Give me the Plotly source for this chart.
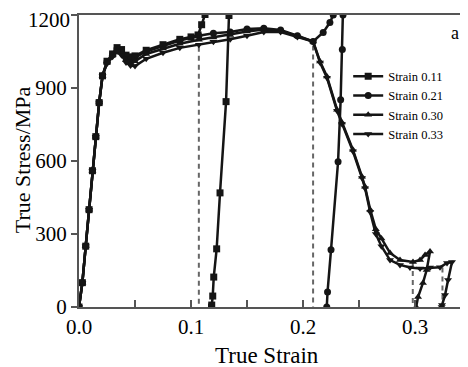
import plotly.graph_objects as go

# ---- data ----
series_names = ["Strain 0.11", "Strain 0.21", "Strain 0.30", "Strain 0.33"]
marker_symbols = ["square", "circle", "triangle-up", "triangle-down"]

strain_011 = [0, 0.003, 0.006, 0.009, 0.012, 0.015, 0.018, 0.021, 0.025, 0.030, 0.034, 0.038,
              0.042, 0.046, 0.050, 0.060, 0.075, 0.090, 0.100, 0.1063, 0.1095, 0.1125, 0.1135,
              None, 0.1183, 0.1185, 0.1194, 0.1203, 0.1229, 0.1259, 0.1313, 0.1339, 0.1345]
stress_011 = [0, 100, 250, 400, 560, 700, 840, 950, 1010, 1040, 1066, 1058,
              1035, 1028, 1032, 1055, 1078, 1100, 1110, 1118, 1160, 1202, 1240,
              None, 0, 8, 45, 123, 239, 469, 844, 1198, 1240]

strain_021 = [0, 0.003, 0.006, 0.009, 0.012, 0.015, 0.018, 0.021, 0.025, 0.030, 0.034, 0.038,
              0.042, 0.046, 0.050, 0.060, 0.075, 0.090, 0.107, 0.120, 0.135, 0.150, 0.165,
              0.180, 0.195, 0.209, 0.218, 0.224, 0.227, 0.2275,
              None, 0.2212, 0.2219, 0.2250, 0.2313, 0.2336, 0.2351, 0.2357, 0.2358]
stress_021 = [0, 100, 250, 400, 560, 700, 840, 950, 1008, 1038, 1062, 1052,
              1028, 1020, 1025, 1050, 1072, 1095, 1115, 1125, 1130, 1142, 1146,
              1138, 1115, 1091, 1128, 1169, 1200, 1240,
              None, 0, 62, 235, 597, 852, 1058, 1200, 1240]

strain_030 = [0, 0.003, 0.006, 0.009, 0.012, 0.015, 0.018, 0.021, 0.025, 0.030, 0.034, 0.038,
              0.042, 0.046, 0.050, 0.060, 0.075, 0.090, 0.107, 0.120, 0.135, 0.150, 0.165,
              0.180, 0.195, 0.209, 0.2152, 0.2214, 0.2304, 0.2348, 0.2446, 0.2527, 0.2554,
              0.2600, 0.2650, 0.2700, 0.2777, 0.2866, 0.2982, 0.3045, 0.3090, 0.3134,
              0.3104, 0.3071, 0.3027, 0.3010]
stress_030 = [0, 100, 250, 400, 560, 700, 840, 950, 1005, 1035, 1055, 1045,
              1015, 1005, 1010, 1040, 1062, 1082, 1098, 1108, 1118, 1132, 1140,
              1135, 1113, 1091, 1009, 947, 811, 758, 646, 535, 494,
              400, 320, 282, 222, 193, 185, 193, 214, 228,
              152, 99, 41, 0]

strain_033 = [0, 0.003, 0.006, 0.009, 0.012, 0.015, 0.018, 0.021, 0.025, 0.030, 0.034, 0.038,
              0.042, 0.046, 0.050, 0.060, 0.075, 0.090, 0.107, 0.120, 0.135, 0.150, 0.165,
              0.180, 0.195, 0.209, 0.2152, 0.2214, 0.2304, 0.2348, 0.2446, 0.2527, 0.2554,
              0.2600, 0.2650, 0.2700, 0.2777, 0.2866, 0.2955, 0.3045, 0.3134, 0.3223,
              0.3286, 0.3330, 0.3295, 0.3268, 0.3241, 0.3238]
stress_033 = [0, 100, 250, 400, 560, 700, 840, 950, 1000, 1028, 1050, 1035,
              1005, 992, 990, 1020, 1045, 1065, 1078, 1090, 1100, 1115, 1130,
              1130, 1110, 1091, 1005, 942, 806, 752, 640, 530, 488,
              390, 300, 250, 193, 173, 162, 158, 162, 163,
              181, 185, 111, 49, 8, 0]

series_strain = [strain_011, strain_021, strain_030, strain_033]
series_stress = [stress_011, stress_021, stress_030, stress_033]

# unloading (dashed) lines: strain position, starting stress
unload_strain = [0.107, 0.209, 0.298, 0.3245]
unload_stress = [1070, 1075, 185, 162]

x_tick_vals = [0.0, 0.05, 0.1, 0.15, 0.2, 0.25, 0.3]
x_tick_text = ["0.0", "", "0.1", "", "0.2", "", "0.3"]
y_tick_vals = [0, 300, 600, 900, 1200]
y_tick_text = ["0", "300", "600", "900", ""]   # top label drawn slightly lower below
y_top_label = "1200"

FONT = "Liberation Serif, Times New Roman, serif"
fig = go.Figure()

for xs, top in zip(unload_strain, unload_stress):
    fig.add_trace(go.Scatter(
        x=[xs, xs], y=[top, 0], mode="lines",
        line=dict(color="#666666", width=2, dash="5px,4px"),
        showlegend=False, hoverinfo="skip"))

for name, sym, xs, ys in zip(series_names, marker_symbols, series_strain, series_stress):
    fig.add_trace(go.Scatter(
        x=xs, y=ys, name=name, mode="lines+markers",
        line=dict(color="#151515", width=2.5),
        marker=dict(symbol=sym, size=7, color="#151515"),
        connectgaps=False, cliponaxis=True))

fig.add_annotation(x=0.3355, y=1125, xref="x", yref="y", text="a", showarrow=False,
                   font=dict(family=FONT, size=18, color="black"))
fig.add_annotation(x=0.483, y=-0.165, xref="paper", yref="paper", text="True Strain",
                   showarrow=False, yanchor="middle",
                   font=dict(family=FONT, size=23, color="black"))
fig.add_annotation(x=-0.145, y=0.505, xref="paper", yref="paper", text="True Stress/MPa",
                   showarrow=False, textangle=-90, xanchor="center", yanchor="middle",
                   font=dict(family=FONT, size=22, color="black"))
fig.add_annotation(x=0, y=y_tick_vals[-1], xref="paper", yref="y", text=y_top_label,
                   showarrow=False, xanchor="right", yanchor="middle",
                   xshift=-7, yshift=-5,
                   font=dict(family=FONT, size=21, color="black"))

# the page body adds an 8px offset, so the figure is 8px smaller than the window
fig.update_layout(
    width=460, height=359,
    margin=dict(l=71, r=0, t=7, b=60),
    paper_bgcolor="white", plot_bgcolor="white",
    font=dict(family=FONT, color="black"),
    showlegend=True,
    legend=dict(x=0.692, y=0.84, xanchor="left", yanchor="top",
                bgcolor="rgba(0,0,0,0)", font=dict(family=FONT, size=12.5),
                tracegroupgap=0, itemwidth=30),
    xaxis=dict(range=[0, 0.3473], tickvals=x_tick_vals, ticktext=x_tick_text,
               ticks="inside", ticklen=7, tickwidth=1.5, tickcolor="#555",
               showline=True, linecolor="#555", linewidth=2, mirror=True,
               showgrid=False, zeroline=False, automargin=False,
               tickfont=dict(family=FONT, size=21, color="black")),
    yaxis=dict(range=[0, 1200], tickvals=y_tick_vals, ticktext=y_tick_text,
               ticks="outside", ticklen=6, tickwidth=1.5, tickcolor="#555",
               showline=True, linecolor="#555", linewidth=2, mirror=False,
               showgrid=False, zeroline=False, automargin=False,
               tickfont=dict(family=FONT, size=21, color="black")),
)

fig.write_html("out.html")
